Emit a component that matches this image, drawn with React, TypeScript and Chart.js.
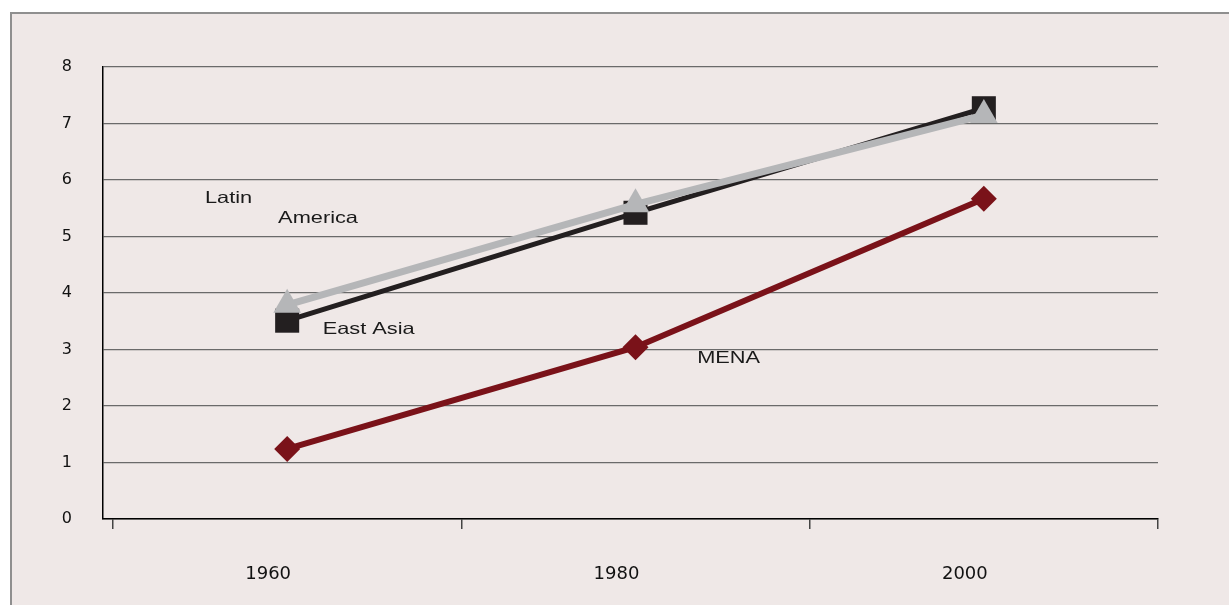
import React, { useEffect, useRef } from "react";
import { Chart, registerables } from "chart.js";

Chart.register(...registerables);

const categories = ["1960", "1980", "2000"];
const yTicks = [0, 1, 2, 3, 4, 5, 6, 7, 8];
const latinAmerica = [3.79, 5.57, 7.15];
const eastAsia = [3.51, 5.42, 7.27];
const mena = [1.24, 3.04, 5.67];

// annotation labels: text, x (category units), y (value units)
const noteTexts = ["Latin", "America", "East Asia", "MENA"];
const noteX = [-0.236, -0.026, 0.102, 1.177];
const noteY = [5.6, 5.24, 3.27, 2.76];

const notesPlugin = {
  id: "notes",
  afterDatasetsDraw(chart: any) {
    const { ctx, scales } = chart;
    ctx.save();
    ctx.fillStyle = "#1a1a1a";
    ctx.font = "16.5px 'Liberation Sans', Arial, sans-serif";
    ctx.textAlign = "left";
    ctx.textBaseline = "alphabetic";
    noteTexts.forEach((t, i) => {
      const px = scales.x.getPixelForValue(noteX[i]);
      const py = scales.y.getPixelForValue(noteY[i]);
      ctx.save();
      ctx.translate(px, py);
      ctx.scale(1.32, 1);
      ctx.fillText(t, 0, 0);
      ctx.restore();
    });
    ctx.restore();
  },
};

export default function App() {
  const ref = useRef<HTMLCanvasElement | null>(null);
  useEffect(() => {
    document.body.style.margin = "0";
    const canvas = ref.current;
    if (!canvas) return;
    const mk = (d: number[]) => d.map((v, i) => ({ x: i, y: v }));
    const chart = new Chart(canvas, {
      type: "line",
      data: {
        datasets: [
          {
            label: "Latin America",
            data: mk(latinAmerica),
            borderColor: "#b5b6b8",
            backgroundColor: "#b5b6b8",
            borderWidth: 7,
            pointStyle: "triangle",
            pointRadius: 16,
            pointBorderWidth: 0,
            pointBackgroundColor: "#b5b6b8",
            tension: 0,
          },
          {
            label: "East Asia",
            data: mk(eastAsia),
            borderColor: "#231f20",
            backgroundColor: "#231f20",
            borderWidth: 5,
            pointStyle: "rect",
            pointRadius: 17,
            pointBorderWidth: 0,
            pointBackgroundColor: "#231f20",
            tension: 0,
          },
          {
            label: "MENA",
            data: mk(mena),
            borderColor: "#7a1219",
            backgroundColor: "#7a1219",
            borderWidth: 6,
            pointStyle: "rectRot",
            pointRadius: 13,
            pointBorderWidth: 0,
            pointBackgroundColor: "#7a1219",
            tension: 0,
          },
        ],
      },
      options: {
        animation: false,
        responsive: false,
        layout: { padding: { left: 0, top: 67, right: 71, bottom: 0 } },
        plugins: { legend: { display: false }, tooltip: { enabled: false } },
        scales: {
          x: {
            type: "linear",
            min: -0.5287,
            max: 2.5,
            afterBuildTicks: (scale: any) => {
              scale.ticks = categories.map((_, i) => ({ value: i }));
            },
            afterFit: (scale: any) => {
              scale.height = 86;
            },
            grid: {
              offset: true,
              drawOnChartArea: false,
              drawTicks: true,
              tickLength: 10,
              color: "#444",
              lineWidth: 1.5,
            },
            border: { display: true, color: "#000", width: 1.5 },
            ticks: {
              autoSkip: false,
              maxRotation: 0,
              padding: 35,
              labelOffset: -19,
              color: "#111",
              font: { family: "'DejaVu Sans', sans-serif", size: 18 },
              callback: (v: any) => categories[Math.round(Number(v))] ?? "",
            },
          },
          y: {
            min: 0,
            max: 8,
            afterBuildTicks: (scale: any) => {
              scale.ticks = yTicks.map((v) => ({ value: v }));
            },
            afterFit: (scale: any) => {
              scale.width = 103;
            },
            grid: { drawTicks: false, color: "#6a6a6a", lineWidth: 1.3 },
            border: { display: true, color: "#000", width: 1.5 },
            ticks: {
              padding: 31,
              color: "#111",
              font: { family: "'DejaVu Sans', sans-serif", size: 16 },
            },
          },
        },
      },
      plugins: [notesPlugin],
    } as any);
    return () => chart.destroy();
  }, []);
  return (
    <div style={{ position: "relative", width: 1229, height: 605, background: "#fff", overflow: "hidden" }}>
      <div
        style={{
          position: "absolute",
          left: 10,
          top: 12,
          right: 0,
          bottom: 0,
          background: "#efe8e7",
          borderTop: "2px solid #8f8f8f",
          borderLeft: "2px solid #8f8f8f",
        }}
      />
      <canvas ref={ref} width={1229} height={605} style={{ position: "absolute", left: 0, top: 0 }} />
    </div>
  );
}
